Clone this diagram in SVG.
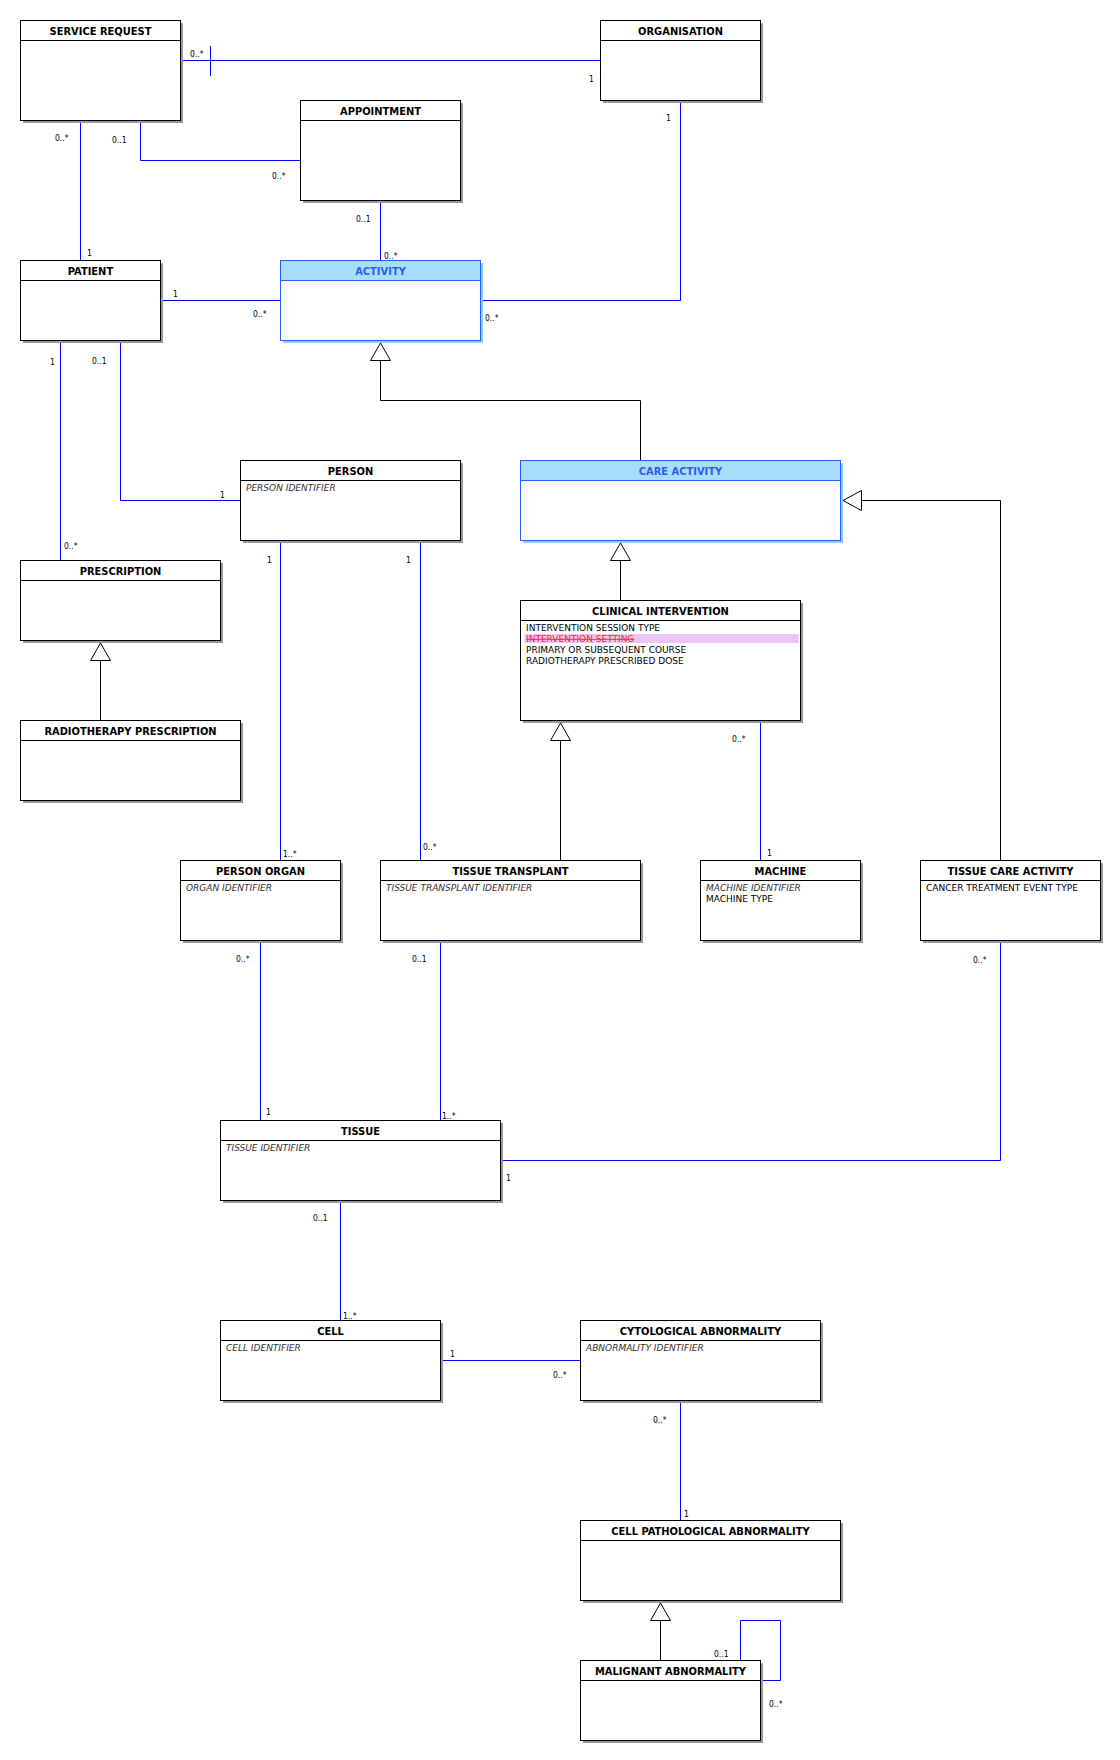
<svg xmlns="http://www.w3.org/2000/svg" width="1120" height="1760" viewBox="0 0 1120 1760">
<style>
.sh{fill:#999999}
.shb{fill:#8fcff2}
.box{fill:#ffffff;stroke:#000000;stroke-width:1}
.boxb{fill:#ffffff;stroke:#2060ff;stroke-width:1}
.hd{fill:none;stroke:#000000;stroke-width:1}
.hdb{fill:#a8ddfa;stroke:#2060ff;stroke-width:1}
.t{font-family:"DejaVu Sans Condensed","DejaVu Sans",sans-serif;font-stretch:condensed;font-size:11px;font-weight:bold;fill:#000000;text-anchor:middle}
.tb{font-family:"DejaVu Sans Condensed","DejaVu Sans",sans-serif;font-stretch:condensed;font-size:11px;font-weight:bold;fill:#2b5cf2;text-anchor:middle}
.a{font-family:"DejaVu Sans",sans-serif;font-size:9px;fill:#000000}
.ai{font-family:"DejaVu Sans",sans-serif;font-size:9px;font-style:italic;fill:#333333}
.as{font-family:"DejaVu Sans",sans-serif;font-size:9px;fill:#ff2a2a;text-decoration:line-through}
.m{font-family:"DejaVu Sans Condensed","DejaVu Sans",sans-serif;font-stretch:condensed;font-size:8.5px;fill:#000000}
.as1{fill:none;stroke:#0000ff;stroke-width:1}
.gen{fill:none;stroke:#000000;stroke-width:1}
.tri{fill:#ffffff;stroke:#000000;stroke-width:1}
</style>
<rect width="1120" height="1760" fill="#ffffff"/>

<g id="connectors">
  <!-- associations -->
  <path class="as1" d="M183,60.5 H600"/>
  <path class="as1" d="M210.5,46 V76"/>
  <path class="as1" d="M80.5,123 V260"/>
  <path class="as1" d="M140.5,123 V160.5 H300"/>
  <path class="as1" d="M380.5,203 V260"/>
  <path class="as1" d="M163,300.5 H280"/>
  <path class="as1" d="M483,300.5 H680.5 V103"/>
  <path class="as1" d="M60.5,343 V560"/>
  <path class="as1" d="M120.5,343 V500.5 H240"/>
  <path class="as1" d="M280.5,543 V860"/>
  <path class="as1" d="M420.5,543 V860"/>
  <path class="as1" d="M760.5,723 V860"/>
  <path class="as1" d="M260.5,943 V1120"/>
  <path class="as1" d="M440.5,943 V1120"/>
  <path class="as1" d="M503,1160.5 H1000.5 V943"/>
  <path class="as1" d="M340.5,1203 V1320"/>
  <path class="as1" d="M443,1360.5 H580"/>
  <path class="as1" d="M680.5,1403 V1520"/>
  <path class="as1" d="M740.5,1660 V1620.5 H780.5 V1680.5 H763"/>
  <!-- generalizations -->
  <path class="gen" d="M640.5,460 V400.5 H380.5 V360"/>
  <polygon class="tri" points="380.5,343 370.5,360.5 390.5,360.5"/>
  <path class="gen" d="M620.5,600 V560"/>
  <polygon class="tri" points="620.5,543 610.5,560.5 630.5,560.5"/>
  <path class="gen" d="M1000.5,860 V500.5 H861"/>
  <polygon class="tri" points="843,500.5 861.5,490.5 861.5,510.5"/>
  <path class="gen" d="M100.5,720 V660"/>
  <polygon class="tri" points="100.5,643 90.5,660.5 110.5,660.5"/>
  <path class="gen" d="M560.5,860 V740"/>
  <polygon class="tri" points="560.5,723 550.5,740.5 570.5,740.5"/>
  <path class="gen" d="M660.5,1660 V1620"/>
  <polygon class="tri" points="660.5,1603 650.5,1620.5 670.5,1620.5"/>
  <!-- multiplicities -->
  <text class="m" x="190" y="57">0..*</text>
  <text class="m" x="589" y="82">1</text>
  <text class="m" x="55" y="141">0..*</text>
  <text class="m" x="87" y="256">1</text>
  <text class="m" x="112" y="143">0..1</text>
  <text class="m" x="272" y="179">0..*</text>
  <text class="m" x="356" y="222">0..1</text>
  <text class="m" x="384" y="259">0..*</text>
  <text class="m" x="173" y="297">1</text>
  <text class="m" x="253" y="317">0..*</text>
  <text class="m" x="485" y="321">0..*</text>
  <text class="m" x="666" y="121">1</text>
  <text class="m" x="50" y="365">1</text>
  <text class="m" x="64" y="549">0..*</text>
  <text class="m" x="92" y="364">0..1</text>
  <text class="m" x="220" y="498">1</text>
  <text class="m" x="267" y="563">1</text>
  <text class="m" x="283" y="857">1..*</text>
  <text class="m" x="406" y="563">1</text>
  <text class="m" x="423" y="850">0..*</text>
  <text class="m" x="732" y="742">0..*</text>
  <text class="m" x="767" y="856">1</text>
  <text class="m" x="236" y="962">0..*</text>
  <text class="m" x="266" y="1115">1</text>
  <text class="m" x="412" y="962">0..1</text>
  <text class="m" x="442" y="1119">1..*</text>
  <text class="m" x="506" y="1181">1</text>
  <text class="m" x="973" y="963">0..*</text>
  <text class="m" x="313" y="1221">0..1</text>
  <text class="m" x="343" y="1319">1..*</text>
  <text class="m" x="450" y="1357">1</text>
  <text class="m" x="553" y="1378">0..*</text>
  <text class="m" x="653" y="1423">0..*</text>
  <text class="m" x="684" y="1517">1</text>
  <text class="m" x="714" y="1657">0..1</text>
  <text class="m" x="769" y="1707">0..*</text>
</g>

<g id="service-request">
  <rect class="sh" x="23" y="23" width="160" height="100"/>
  <rect class="box" x="20.5" y="20.5" width="160" height="100"/>
  <path class="hd" d="M20.5,40.5 H180.5"/>
  <text class="t" x="100.5" y="35">SERVICE REQUEST</text>
</g>
<g id="organisation">
  <rect class="sh" x="603" y="23" width="160" height="80"/>
  <rect class="box" x="600.5" y="20.5" width="160" height="80"/>
  <path class="hd" d="M600.5,40.5 H760.5"/>
  <text class="t" x="680.5" y="35">ORGANISATION</text>
</g>
<g id="appointment">
  <rect class="sh" x="303" y="103" width="160" height="100"/>
  <rect class="box" x="300.5" y="100.5" width="160" height="100"/>
  <path class="hd" d="M300.5,120.5 H460.5"/>
  <text class="t" x="380.5" y="115">APPOINTMENT</text>
</g>
<g id="patient">
  <rect class="sh" x="23" y="263" width="140" height="80"/>
  <rect class="box" x="20.5" y="260.5" width="140" height="80"/>
  <path class="hd" d="M20.5,280.5 H160.5"/>
  <text class="t" x="90.5" y="275">PATIENT</text>
</g>
<g id="activity">
  <rect class="shb" x="283" y="263" width="200" height="80"/>
  <rect class="boxb" x="280.5" y="260.5" width="200" height="80"/>
  <rect class="hdb" x="280.5" y="260.5" width="200" height="20"/>
  <text class="tb" x="380.5" y="275">ACTIVITY</text>
</g>
<g id="person">
  <rect class="sh" x="243" y="463" width="220" height="80"/>
  <rect class="box" x="240.5" y="460.5" width="220" height="80"/>
  <path class="hd" d="M240.5,480.5 H460.5"/>
  <text class="t" x="350.5" y="475">PERSON</text>
  <text class="ai" x="246" y="491">PERSON IDENTIFIER</text>
</g>
<g id="care-activity">
  <rect class="shb" x="523" y="463" width="320" height="80"/>
  <rect class="boxb" x="520.5" y="460.5" width="320" height="80"/>
  <rect class="hdb" x="520.5" y="460.5" width="320" height="20"/>
  <text class="tb" x="680.5" y="475">CARE ACTIVITY</text>
</g>
<g id="prescription">
  <rect class="sh" x="23" y="563" width="200" height="80"/>
  <rect class="box" x="20.5" y="560.5" width="200" height="80"/>
  <path class="hd" d="M20.5,580.5 H220.5"/>
  <text class="t" x="120.5" y="575">PRESCRIPTION</text>
</g>
<g id="clinical-intervention">
  <rect class="sh" x="523" y="603" width="280" height="120"/>
  <rect class="box" x="520.5" y="600.5" width="280" height="120"/>
  <path class="hd" d="M520.5,620.5 H800.5"/>
  <text class="t" x="660.5" y="615">CLINICAL INTERVENTION</text>
  <rect x="524.5" y="634" width="274" height="9" fill="#eac6f8"/>
  <text class="a" x="526" y="631">INTERVENTION SESSION TYPE</text>
  <text class="as" x="526" y="642">INTERVENTION SETTING</text>
  <text class="a" x="526" y="653">PRIMARY OR SUBSEQUENT COURSE</text>
  <text class="a" x="526" y="664">RADIOTHERAPY PRESCRIBED DOSE</text>
</g>
<g id="radiotherapy-prescription">
  <rect class="sh" x="23" y="723" width="220" height="80"/>
  <rect class="box" x="20.5" y="720.5" width="220" height="80"/>
  <path class="hd" d="M20.5,740.5 H240.5"/>
  <text class="t" x="130.5" y="735">RADIOTHERAPY PRESCRIPTION</text>
</g>
<g id="person-organ">
  <rect class="sh" x="183" y="863" width="160" height="80"/>
  <rect class="box" x="180.5" y="860.5" width="160" height="80"/>
  <path class="hd" d="M180.5,880.5 H340.5"/>
  <text class="t" x="260.5" y="875">PERSON ORGAN</text>
  <text class="ai" x="186" y="891">ORGAN IDENTIFIER</text>
</g>
<g id="tissue-transplant">
  <rect class="sh" x="383" y="863" width="260" height="80"/>
  <rect class="box" x="380.5" y="860.5" width="260" height="80"/>
  <path class="hd" d="M380.5,880.5 H640.5"/>
  <text class="t" x="510.5" y="875">TISSUE TRANSPLANT</text>
  <text class="ai" x="386" y="891">TISSUE TRANSPLANT IDENTIFIER</text>
</g>
<g id="machine">
  <rect class="sh" x="703" y="863" width="160" height="80"/>
  <rect class="box" x="700.5" y="860.5" width="160" height="80"/>
  <path class="hd" d="M700.5,880.5 H860.5"/>
  <text class="t" x="780.5" y="875">MACHINE</text>
  <text class="ai" x="706" y="891">MACHINE IDENTIFIER</text>
  <text class="a" x="706" y="902">MACHINE TYPE</text>
</g>
<g id="tissue-care-activity">
  <rect class="sh" x="923" y="863" width="180" height="80"/>
  <rect class="box" x="920.5" y="860.5" width="180" height="80"/>
  <path class="hd" d="M920.5,880.5 H1100.5"/>
  <text class="t" x="1010.5" y="875">TISSUE CARE ACTIVITY</text>
  <text class="a" x="926" y="891">CANCER TREATMENT EVENT TYPE</text>
</g>
<g id="tissue">
  <rect class="sh" x="223" y="1123" width="280" height="80"/>
  <rect class="box" x="220.5" y="1120.5" width="280" height="80"/>
  <path class="hd" d="M220.5,1140.5 H500.5"/>
  <text class="t" x="360.5" y="1135">TISSUE</text>
  <text class="ai" x="226" y="1151">TISSUE IDENTIFIER</text>
</g>
<g id="cell">
  <rect class="sh" x="223" y="1323" width="220" height="80"/>
  <rect class="box" x="220.5" y="1320.5" width="220" height="80"/>
  <path class="hd" d="M220.5,1340.5 H440.5"/>
  <text class="t" x="330.5" y="1335">CELL</text>
  <text class="ai" x="226" y="1351">CELL IDENTIFIER</text>
</g>
<g id="cytological-abnormality">
  <rect class="sh" x="583" y="1323" width="240" height="80"/>
  <rect class="box" x="580.5" y="1320.5" width="240" height="80"/>
  <path class="hd" d="M580.5,1340.5 H820.5"/>
  <text class="t" x="700.5" y="1335">CYTOLOGICAL ABNORMALITY</text>
  <text class="ai" x="586" y="1351">ABNORMALITY IDENTIFIER</text>
</g>
<g id="cell-pathological-abnormality">
  <rect class="sh" x="583" y="1523" width="260" height="80"/>
  <rect class="box" x="580.5" y="1520.5" width="260" height="80"/>
  <path class="hd" d="M580.5,1540.5 H840.5"/>
  <text class="t" x="710.5" y="1535">CELL PATHOLOGICAL ABNORMALITY</text>
</g>
<g id="malignant-abnormality">
  <rect class="sh" x="583" y="1663" width="180" height="80"/>
  <rect class="box" x="580.5" y="1660.5" width="180" height="80"/>
  <path class="hd" d="M580.5,1680.5 H760.5"/>
  <text class="t" x="670.5" y="1675">MALIGNANT ABNORMALITY</text>
</g>
</svg>
